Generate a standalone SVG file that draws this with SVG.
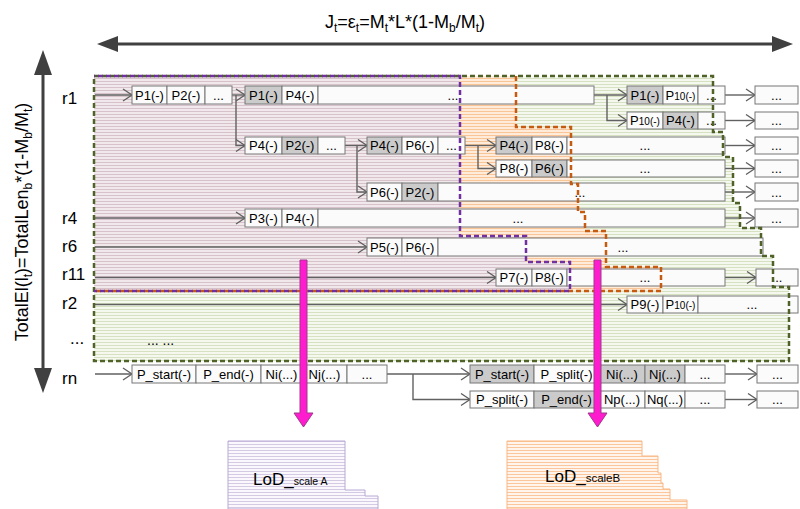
<svg xmlns="http://www.w3.org/2000/svg" width="800" height="509" viewBox="0 0 800 509">
<defs>
<pattern id="pPurple" width="4" height="3" patternUnits="userSpaceOnUse"><rect width="4" height="3" fill="#f0e8eb"/><rect width="4" height="1" fill="#d7c2cb"/></pattern>
<pattern id="pOrange" width="4" height="3" patternUnits="userSpaceOnUse"><rect width="4" height="3" fill="#feebd9"/><rect width="4" height="1" fill="#f9c597"/></pattern>
<pattern id="pGreen" width="4" height="3" patternUnits="userSpaceOnUse"><rect width="4" height="3" fill="#f5f8ef"/><rect width="4" height="1" fill="#d5e1c1"/></pattern>
<pattern id="pLodA" width="4" height="3" patternUnits="userSpaceOnUse"><rect width="4" height="3" fill="#faf8fc"/><rect width="4" height="1" fill="#d4cae4"/></pattern>
<pattern id="pLodB" width="4" height="3" patternUnits="userSpaceOnUse"><rect width="4" height="3" fill="#fff5ec"/><rect width="4" height="1" fill="#fbc69b"/></pattern>
<marker id="open" markerUnits="userSpaceOnUse" markerWidth="12" markerHeight="14" refX="10" refY="7" orient="auto"><path d="M1,1 L10,7 L1,13" fill="none" stroke="#5f5f5f" stroke-width="1.3"/></marker>
</defs>
<style>
text{font-family:"Liberation Sans",Arial,sans-serif;fill:#000}
.c text{font-size:13px;text-anchor:middle}
.c rect{stroke:#777;stroke-width:1}
.w{fill:#fbfbfb}
.g{fill:#cbcbcb}
.conn path{fill:none;stroke:#616161;stroke-width:1.4;marker-end:url(#open)}
.lbl{font-size:17px}
.dash{fill:none;stroke-width:2.5;stroke-dasharray:5 3}
.mag{fill:#ff1ccf;stroke:#9c3a8a;stroke-width:1}
.sm{font-size:10px}
</style>

<!-- regions -->
<g id="region-green">
<polygon points="94,76 713,76 713,132 723,132 723,157 733,157 733,203 740,203 740,228 761,228 761,256 773,256 773,287 789,287 789,361 94,361" fill="url(#pGreen)"/>
</g>
<g id="region-orange">
<polygon points="94,76 516,76 516,127 571,127 571,184 578,184 578,212 585,212 585,231 606,231 606,267 661,267 661,291 94,291" fill="url(#pOrange)"/>
</g>
<g id="region-purple">
<polygon points="94,76 460,76 460,236 526,236 526,262 570,262 570,291 94,291" fill="url(#pPurple)"/>
</g>

<!-- axes -->
<g id="axis-top">
<line x1="115" y1="44" x2="775" y2="44" stroke="#404040" stroke-width="3"/>
<polygon points="97,44 118,36 118,52" fill="#404040"/>
<polygon points="793,44 772,36 772,52" fill="#404040"/>
<text x="405" y="28" text-anchor="middle" font-size="18">J<tspan font-size="12" dy="4">t</tspan><tspan dy="-4">=ε</tspan><tspan font-size="12" dy="4">t</tspan><tspan dy="-4">=M</tspan><tspan font-size="12" dy="4">t</tspan><tspan dy="-4">*L*(1-M</tspan><tspan font-size="12" dy="4">b</tspan><tspan dy="-4">/M</tspan><tspan font-size="12" dy="4">t</tspan><tspan dy="-4">)</tspan></text>
</g>
<g id="axis-left">
<line x1="43" y1="72" x2="43" y2="370" stroke="#404040" stroke-width="3"/>
<polygon points="43,50 34,75 52,75" fill="#404040"/>
<polygon points="43,393 34,368 52,368" fill="#404040"/>
<text transform="translate(28,222) rotate(-90)" text-anchor="middle" font-size="18">TotalEl(l<tspan font-size="12" dy="4">t</tspan><tspan dy="-4">)=TotalLen</tspan><tspan font-size="12" dy="4">b</tspan><tspan dy="-4">*(1-M</tspan><tspan font-size="12" dy="4">b</tspan><tspan dy="-4">/M</tspan><tspan font-size="12" dy="4">t</tspan><tspan dy="-4">)</tspan></text>
</g>
<g id="row-labels" class="lbl">
<text x="62" y="104">r1</text>
<text x="62" y="224">r4</text>
<text x="62" y="252">r6</text>
<text x="62" y="280">r11</text>
<text x="62" y="309">r2</text>
<text x="70" y="344">...</text>
<text x="62" y="384">rn</text>
</g>

<!-- connectors -->
<g id="connectors" class="conn">
<path d="M95,95 H132"/>
<path d="M232,95 H245"/>
<path d="M236,95 V145.5 H245"/>
<path d="M594,95 H627"/>
<path d="M607,95 V120.5 H627"/>
<path d="M725,95 H755"/>
<path d="M725,120.5 H755"/>
<path d="M345,145.5 H367"/>
<path d="M357,145.5 V192 H367"/>
<path d="M465,145.5 H496"/>
<path d="M478,145.5 V168.5 H496"/>
<path d="M725,145.5 H755"/>
<path d="M725,168.5 H755"/>
<path d="M725,192 H755"/>
<path d="M95,218 H245"/>
<path d="M725,218 H755"/>
<path d="M95,247 H367"/>
<path d="M95,277.5 H496"/>
<path d="M725,277.5 H756"/>
<path d="M95,304.5 H627"/>
<path d="M95,374 H132"/>
<path d="M387,374 H470"/>
<path d="M413,374 V399.5 H470"/>
<path d="M725,374 H757"/>
<path d="M725,399.5 H757"/>
</g>

<!-- nodes -->
<g id="r1-a" class="c">
<rect x="132" y="86" width="35" height="18" class="w"/><text x="149.5" y="99.5">P1(-)</text>
<rect x="167" y="86" width="38" height="18" class="w"/><text x="186" y="99.5">P2(-)</text>
<rect x="205" y="86" width="27" height="18" class="w"/><text x="218.5" y="99.5">...</text>
</g>
<g id="r1-b" class="c">
<rect x="245" y="86" width="37" height="18" class="g"/><text x="263.5" y="99.5">P1(-)</text>
<rect x="282" y="86" width="36" height="18" class="w"/><text x="300" y="99.5">P4(-)</text>
<rect x="318" y="86" width="276" height="18" class="w"/><text x="453" y="99.5">...</text>
</g>
<g id="r1-c" class="c">
<rect x="627" y="86" width="36" height="18" class="g"/><text x="645" y="99.5">P1(-)</text>
<rect x="663" y="86" width="35" height="18" class="w"/><text x="680.5" y="99.5">P<tspan class="sm">10(-)</tspan></text>
<rect x="698" y="86" width="27" height="18" class="w"/><text x="711.5" y="99.5">...</text>
<rect x="755" y="86" width="43" height="18" class="w"/><text x="776.5" y="99.5">...</text>
</g>
<g id="r1-d" class="c">
<rect x="627" y="112" width="36" height="17" class="w"/><text x="645" y="125">P<tspan class="sm">10(-)</tspan></text>
<rect x="663" y="112" width="35" height="17" class="g"/><text x="680.5" y="125">P4(-)</text>
<rect x="698" y="112" width="27" height="17" class="w"/><text x="711.5" y="125">...</text>
<rect x="755" y="112" width="43" height="17" class="w"/><text x="776.5" y="125">...</text>
</g>
<g id="r1-e" class="c">
<rect x="245" y="137" width="37" height="17" class="w"/><text x="263.5" y="150">P4(-)</text>
<rect x="282" y="137" width="36" height="17" class="g"/><text x="300" y="150">P2(-)</text>
<rect x="318" y="137" width="27" height="17" class="w"/><text x="331.5" y="150">...</text>
</g>
<g id="r1-f" class="c">
<rect x="367" y="137" width="35" height="17" class="g"/><text x="384.5" y="150">P4(-)</text>
<rect x="402" y="137" width="36" height="17" class="w"/><text x="420" y="150">P6(-)</text>
<rect x="438" y="137" width="27" height="17" class="w"/><text x="451.5" y="150">...</text>
</g>
<g id="r1-g" class="c">
<rect x="496" y="137" width="36" height="17" class="g"/><text x="514" y="150">P4(-)</text>
<rect x="532" y="137" width="35" height="17" class="w"/><text x="549.5" y="150">P8(-)</text>
<rect x="567" y="137" width="158" height="17" class="w"/><text x="645" y="150">...</text>
<rect x="755" y="137" width="43" height="17" class="w"/><text x="776.5" y="150">...</text>
</g>
<g id="r1-h" class="c">
<rect x="496" y="160" width="36" height="17" class="w"/><text x="514" y="173">P8(-)</text>
<rect x="532" y="160" width="35" height="17" class="g"/><text x="549.5" y="173">P6(-)</text>
<rect x="567" y="160" width="158" height="17" class="w"/><text x="645" y="173">...</text>
<rect x="755" y="160" width="43" height="17" class="w"/><text x="776.5" y="173">...</text>
</g>
<g id="r1-i" class="c">
<rect x="367" y="183" width="35" height="18" class="w"/><text x="384.5" y="196.5">P6(-)</text>
<rect x="402" y="183" width="36" height="18" class="g"/><text x="420" y="196.5">P2(-)</text>
<rect x="438" y="183" width="287" height="18" class="w"/><text x="580" y="196.5">...</text>
<rect x="755" y="183" width="43" height="18" class="w"/><text x="776.5" y="196.5">...</text>
</g>
<g id="r4" class="c">
<rect x="245" y="209" width="37" height="18" class="w"/><text x="263.5" y="222.5">P3(-)</text>
<rect x="282" y="209" width="36" height="18" class="w"/><text x="300" y="222.5">P4(-)</text>
<rect x="318" y="209" width="407" height="18" class="w"/><text x="518" y="222.5">...</text>
<rect x="755" y="209" width="43" height="18" class="w"/><text x="776.5" y="222.5">...</text>
</g>
<g id="r6" class="c">
<rect x="367" y="238" width="35" height="18" class="w"/><text x="384.5" y="251.5">P5(-)</text>
<rect x="402" y="238" width="36" height="18" class="w"/><text x="420" y="251.5">P6(-)</text>
<rect x="438" y="238" width="325" height="18" class="w"/><text x="623" y="251.5">...</text>
</g>
<g id="r11" class="c">
<rect x="496" y="269" width="36" height="17" class="w"/><text x="514" y="282">P7(-)</text>
<rect x="532" y="269" width="35" height="17" class="w"/><text x="549.5" y="282">P8(-)</text>
<rect x="567" y="269" width="158" height="17" class="w"/><text x="645" y="282">...</text>
<rect x="756" y="269" width="42" height="17" class="w"/><text x="777" y="282">...</text>
</g>
<g id="r2" class="c">
<rect x="627" y="296" width="36" height="17" class="w"/><text x="645" y="309">P9(-)</text>
<rect x="663" y="296" width="35" height="17" class="w"/><text x="680.5" y="309">P<tspan class="sm">10(-)</tspan></text>
<rect x="698" y="296" width="100" height="17" class="w"/><text x="752" y="309">...</text>
</g>
<g id="r2-more"><text x="147" y="345" font-size="14">... ...</text></g>
<g id="rn-a" class="c">
<rect x="132" y="365" width="64" height="18" class="w"/><text x="164" y="378.5">P_start(-)</text>
<rect x="196" y="365" width="65" height="18" class="w"/><text x="228.5" y="378.5">P_end(-)</text>
<rect x="261" y="365" width="41" height="18" class="w"/><text x="281.5" y="378.5">Ni(...)</text>
<rect x="302" y="365" width="45" height="18" class="w"/><text x="324.5" y="378.5">Nj(...)</text>
<rect x="347" y="365" width="40" height="18" class="w"/><text x="367" y="378.5">...</text>
</g>
<g id="rn-b" class="c">
<rect x="470" y="365" width="64" height="18" class="g"/><text x="502" y="378.5">P_start(-)</text>
<rect x="534" y="365" width="65" height="18" class="w"/><text x="566.5" y="378.5">P_split(-)</text>
<rect x="599" y="365" width="46" height="18" class="g"/><text x="622" y="378.5">Ni(...)</text>
<rect x="645" y="365" width="40" height="18" class="g"/><text x="665" y="378.5">Nj(...)</text>
<rect x="685" y="365" width="40" height="18" class="w"/><text x="705" y="378.5">...</text>
<rect x="757" y="365" width="41" height="18" class="w"/><text x="777.5" y="378.5">...</text>
</g>
<g id="rn-c" class="c">
<rect x="470" y="391" width="64" height="17" class="w"/><text x="502" y="404">P_split(-)</text>
<rect x="534" y="391" width="65" height="17" class="g"/><text x="566.5" y="404">P_end(-)</text>
<rect x="599" y="391" width="46" height="17" class="w"/><text x="622" y="404">Np(...)</text>
<rect x="645" y="391" width="40" height="17" class="w"/><text x="665" y="404">Nq(...)</text>
<rect x="685" y="391" width="40" height="17" class="w"/><text x="705" y="404">...</text>
<rect x="757" y="391" width="41" height="17" class="w"/><text x="777.5" y="404">...</text>
</g>

<!-- region borders -->
<g id="borders">
<path class="dash" stroke="#4f6228" d="M94,76 H713 V132 H723 V157 H733 V203 H740 V228 H761 V256 H773 V287 H789 V361 H94 Z"/>
<path class="dash" stroke="#c55a11" d="M516,76 V127 H571 V184 H578 V212 H585 V231 H606 V267 H661 V291 H94"/>
<path class="dash" stroke="#7030a0" stroke-dashoffset="4" d="M94,76 H460 V236 H526 V262 H570 V291 H94"/>
</g>

<!-- LoD outputs -->
<g id="lod-a">
<polygon points="228,441 345,441 345,490 365,490 365,496 378,496 378,509 228,509" fill="url(#pLodA)" stroke="#b8a8d6" stroke-width="1"/>
<text x="253" y="485" font-size="17">LoD_<tspan font-size="10.5">scale A</tspan></text>
</g>
<g id="lod-b">
<polygon points="507,441 642,441 642,456 658,456 658,473 661,473 661,483 663,483 663,489 670,489 670,500 687,500 687,509 507,509" fill="url(#pLodB)" stroke="#f8b783" stroke-width="1"/>
<text x="545" y="482" font-size="17">LoD_<tspan font-size="11.5">scaleB</tspan></text>
</g>

<!-- magenta arrows -->
<g id="arrow-a">
<path class="mag" d="M300,260 H307 V413 H313 L303.5,427 L294,413 H300 Z"/>
</g>
<g id="arrow-b">
<path class="mag" d="M594,260 H601 V413 H607 L597.5,427 L588,413 H594 Z"/>
</g>
</svg>
